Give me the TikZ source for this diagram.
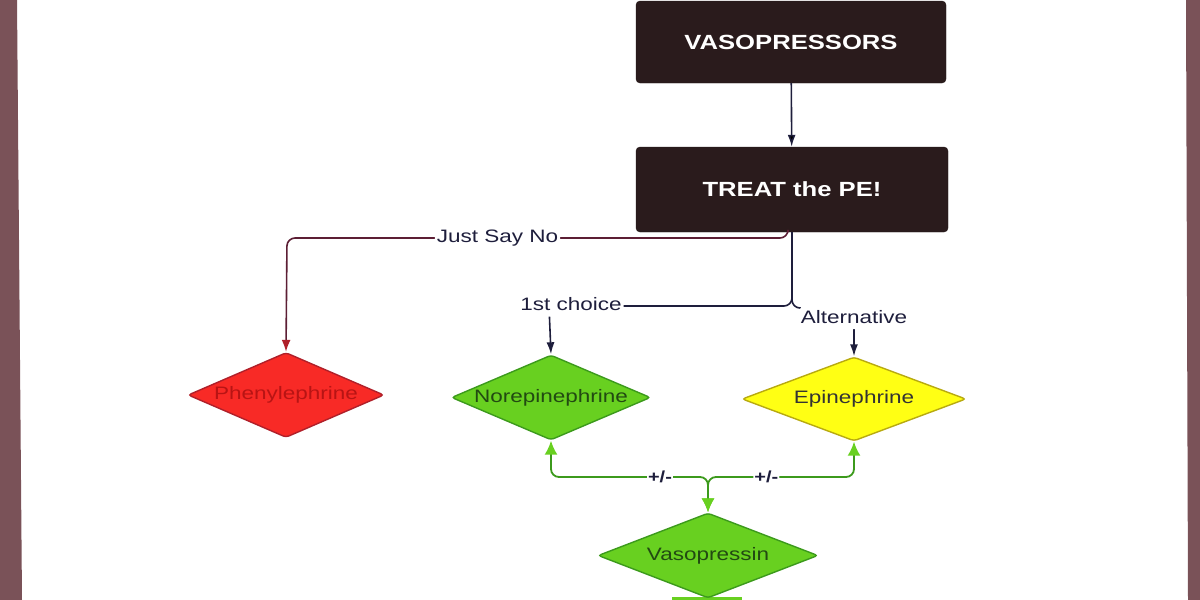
\documentclass[tikz,border=0pt]{standalone}
\usepackage{fontspec}
\setmainfont{Liberation Sans}[FakeStretch=1.25]
\usetikzlibrary{shapes.geometric,arrows.meta}

\definecolor{boxdark}{HTML}{2A1B1C}
\definecolor{navy}{HTML}{1E1E3C}
\definecolor{maroon}{HTML}{5C1E34}
\definecolor{redfill}{HTML}{F82A26}
\definecolor{reddraw}{HTML}{B0202A}
\definecolor{redtext}{HTML}{B81414}
\definecolor{greenfill}{HTML}{68D020}
\definecolor{greendraw}{HTML}{3C9A1C}
\definecolor{greentext}{HTML}{224A12}
\definecolor{yellowfill}{HTML}{FFFF14}
\definecolor{yellowdraw}{HTML}{B8AA10}
\definecolor{strip}{HTML}{7A5258}

\begin{document}
\begin{tikzpicture}[x=1pt,y=-1pt]
\tikzset{
box/.style={rectangle,rounded corners=4pt,fill=boxdark,draw=boxdark!80!black,text=white,minimum width=310pt,minimum height=82pt,font={\fontsize{20.5pt}{24pt}\selectfont\bfseries}},
drug/.style={diamond,shape aspect=2.35,inner sep=0pt,minimum height=85pt,line width=1.4pt,rounded corners=3pt,font={\fontsize{18pt}{20pt}\selectfont}},
lbl/.style={fill=white,inner sep=2pt,text=navy,font={\fontsize{18pt}{20pt}\selectfont}},
pm/.style={fill=white,inner sep=1pt,text=navy,font={\fontsize{16pt}{18pt}\selectfont\bfseries}},
link/.style={draw=navy,line width=1.6pt,rounded corners=8pt,-{Latex[length=12pt,width=8pt]}},
nolink/.style={draw=maroon,line width=1.6pt,rounded corners=8pt,-{Latex[length=12pt,width=9pt,color=reddraw]}},
pluslink/.style={draw=greendraw,line width=1.8pt,rounded corners=8pt,{Latex[length=14pt,width=13pt,color=greenfill]}-{Latex[length=14pt,width=13pt,color=greenfill]}}
}

\useasboundingbox (0,0) rectangle (1200,600);
\fill[strip] (0,0) -- (17,0) -- (22,600) -- (0,600) -- cycle;
\fill[strip] (1186,0) -- (1200,0) -- (1200,600) -- (1188,600) -- cycle;
\fill[greenfill] (672,597) rectangle (742,600);

\node[box] (VP) at (791,42) {VASOPRESSORS};
\node[box,minimum width=312pt,minimum height=85pt] (TP) at (792,189.5) {TREAT the PE!};
\node[drug,fill=redfill,draw=reddraw,text=redtext,minimum width=196pt] (PH) at (286,395) {Phenylephrine};
\node[drug,fill=greenfill,draw=greendraw,text=greentext,minimum width=199pt] (NE) at (551,397.5) {Norepinephrine};
\node[drug,fill=yellowfill,draw=yellowdraw,text=black!80,minimum width=224pt,minimum height=84pt] (EP) at (854,399) {Epinephrine};
\node[drug,fill=greenfill,draw=greendraw,text=greentext,minimum width=220pt] (VA) at (708,555.5) {Vasopressin};

\coordinate (sayno) at (287,238);
\coordinate (first) at (549,306);
\coordinate (alt) at (854,308);
\coordinate (vj) at (708,477);

\path[link]
 (VP) edge (TP)
;
\draw[nolink] ([xshift=-4pt]TP.south) |- node[lbl,pos=0.79]{Just Say No} (sayno) -- (PH.north);
\draw[link] (TP.south) |- (first) node[lbl,inner ysep=6pt,xshift=22pt,yshift=2pt]{1st choice} -- (NE.north);
\draw[link] (TP.south) |- (alt) node[lbl,inner ysep=5.5pt,yshift=-9pt]{Alternative} -- (EP.north);

\draw[pluslink] (NE.south) |- node[pm,pos=0.847]{+/-} (vj) -- (VA.north);
\draw[pluslink] (EP.south) |- node[pm,pos=0.8]{+/-} (vj) -- (VA.north);
\end{tikzpicture}
\end{document}
